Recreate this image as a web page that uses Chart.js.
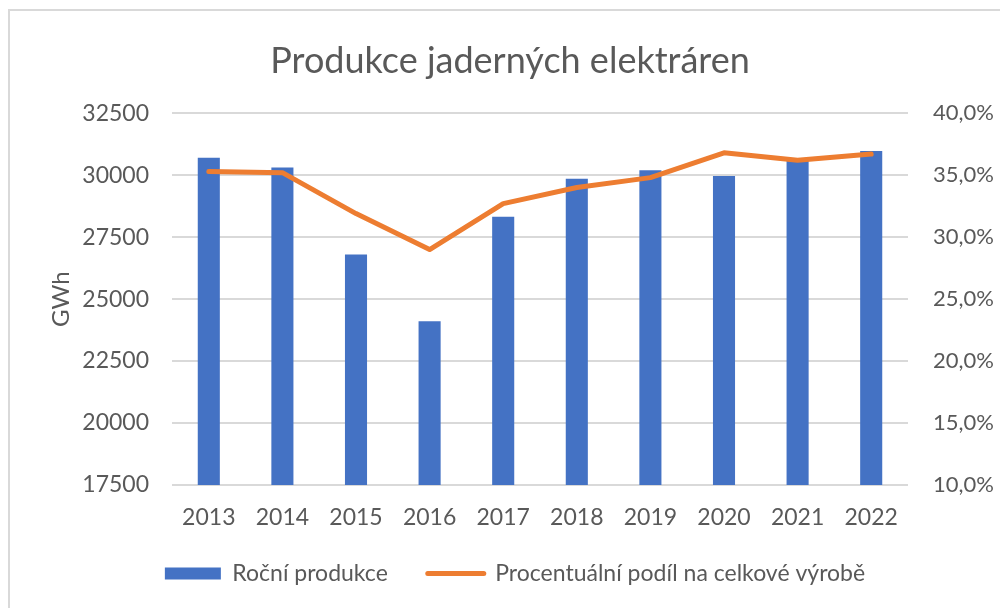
<!DOCTYPE html>
<html>
<head>
<meta charset="utf-8">
<script src="https://cdn.jsdelivr.net/npm/chart.js@4"></script>
<style>
    body { margin: 0; background: #fff; }
    .frame { position: absolute; left: 8px; top: 9px; width: 1000px; height: 620px; border: 2px solid #d9d9d9; }
    .wrap { position: absolute; left: 0; top: 0; width: 1000px; height: 608px; }
</style>
</head>
<body>
<div class="frame"></div>
<div class="wrap"><canvas id="nuclearChart" width="1000" height="608"></canvas></div>
<script>
// Data
const years = ['2013', '2014', '2015', '2016', '2017', '2018', '2019', '2020', '2021', '2022'];
const production = [30700, 30310, 26800, 24110, 28320, 29860, 30200, 29970, 30600, 30970];
const share = [35.3, 35.2, 31.9, 29.0, 32.7, 34.0, 34.8, 36.8, 36.2, 36.7];
const gwhTicks = [17500, 20000, 22500, 25000, 27500, 30000, 32500];
const shareTicks = [10, 15, 20, 25, 30, 35, 40];

const textColor = '#595959';
const gridColor = '#d9d9d9';
const fontFamily = 'Lato, "Open Sans", sans-serif';

Chart.defaults.font.family = fontFamily;
Chart.defaults.color = textColor;

// Nudge the legend and title to where the reference has them
const boxShift = {
    id: 'boxShift',
    afterLayout(chart) {
        const lg = chart.legend;
        lg.left += 15; lg.right += 15;
        lg.top -= 13; lg.bottom -= 13;
        const tt = chart.titleBlock;
        tt.left += 10; tt.right += 10;
        tt.top += 2; tt.bottom += 2;
    }
};

const ctx = document.getElementById('nuclearChart').getContext('2d');
new Chart(ctx, {
    type: 'bar',
    data: {
        labels: years,
        datasets: [{
            type: 'bar',
            label: 'Roční produkce',
            data: production,
            backgroundColor: '#4472C4',
            barPercentage: 0.3,
            categoryPercentage: 1,
            yAxisID: 'y',
            order: 2
        }, {
            type: 'line',
            label: 'Procentuální podíl na celkové výrobě',
            data: share,
            borderColor: '#ED7D31',
            backgroundColor: '#ED7D31',
            borderWidth: 5,
            borderCapStyle: 'round',
            borderJoinStyle: 'round',
            pointRadius: 0,
            tension: 0,
            yAxisID: 'y1',
            order: 1
        }]
    },
    plugins: [boxShift],
    options: {
        responsive: false,
        animation: false,
        layout: { padding: 0 },
        plugins: {
            title: {
                display: true,
                text: 'Produkce jaderných elektráren',
                color: textColor,
                font: { size: 36, weight: 'normal' },
                padding: { top: 38, bottom: 32 }
            },
            legend: {
                position: 'bottom',
                labels: {
                    color: textColor,
                    font: { size: 23 },
                    boxWidth: 56,
                    boxHeight: 12,
                    padding: 40,
                    usePointStyle: true,
                    pointStyleWidth: 56,
                    generateLabels: function(chart) {
                        return chart.data.datasets.map((ds, i) => ({
                            text: ds.label,
                            datasetIndex: i,
                            fillStyle: ds.backgroundColor,
                            strokeStyle: ds.type === 'line' ? ds.borderColor : ds.backgroundColor,
                            lineWidth: ds.type === 'line' ? 5 : 0,
                            lineCap: 'round',
                            pointStyle: ds.type === 'line' ? 'line' : 'rect',
                            fontColor: textColor,
                            hidden: false
                        }));
                    }
                }
            },
            tooltip: { enabled: false }
        },
        scales: {
            x: {
                grid: { display: false, drawTicks: false },
                border: { display: false },
                ticks: { color: textColor, font: { size: 23 }, padding: 19, maxRotation: 0 },
                afterFit: function(scale) { scale.height = 50; }
            },
            y: {
                position: 'left',
                min: 17500,
                max: 32500,
                afterBuildTicks: function(scale) { scale.ticks = gwhTicks.map(v => ({ value: v })); },
                grid: { color: gridColor, lineWidth: 2, drawTicks: false },
                border: { display: false },
                ticks: {
                    color: textColor,
                    font: { size: 23 },
                    padding: 23,
                    callback: function(value) { return String(value); }
                },
                title: {
                    display: true,
                    text: 'GWh',
                    color: textColor,
                    font: { size: 24 },
                    padding: { top: 47, bottom: 0 }
                },
                afterFit: function(scale) { scale.width = 172; }
            },
            y1: {
                position: 'right',
                min: 10,
                max: 40,
                afterBuildTicks: function(scale) { scale.ticks = shareTicks.map(v => ({ value: v })); },
                grid: { display: false, drawTicks: false },
                border: { display: false },
                ticks: {
                    color: textColor,
                    font: { size: 22 },
                    padding: 25,
                    callback: function(value) { return value.toFixed(1).replace('.', ',') + '%'; }
                },
                afterFit: function(scale) { scale.width = 92; }
            }
        }
    }
});
</script>
</body>
</html>
